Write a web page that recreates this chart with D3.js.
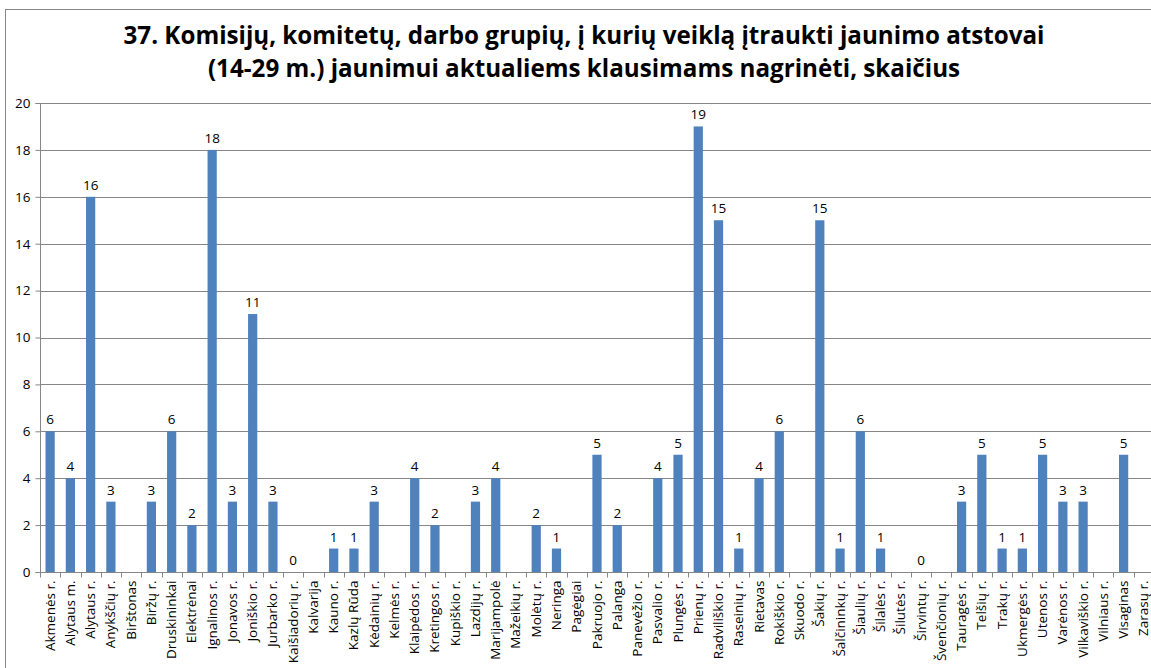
<!DOCTYPE html>
<html>
<head>
<meta charset="utf-8">
<script src="https://cdn.jsdelivr.net/npm/d3@7"></script>
<style>
  body { margin: 0; background: #fff; }
  svg { display: block; }
</style>
</head>
<body>
<div id="chart"></div>
<script>
// savivaldybės
const municipalities = [
  "Akmenės r.", "Alytaus m.", "Alytaus r.", "Anykščių r.", "Birštonas", "Biržų r.",
  "Druskininkai", "Elektrėnai", "Ignalinos r.", "Jonavos r.", "Joniškio r.", "Jurbarko r.",
  "Kaišiadorių r.", "Kalvarija", "Kauno r.", "Kazlų Rūda", "Kėdainių r.", "Kelmės r.",
  "Klaipėdos r.", "Kretingos r.", "Kupiškio r.", "Lazdijų r.", "Marijampolė", "Mažeikių r.",
  "Molėtų r.", "Neringa", "Pagėgiai", "Pakruojo r.", "Palanga", "Panevėžio r.",
  "Pasvalio r.", "Plungės r.", "Prienų r.", "Radviliškio r.", "Raseinių r.", "Rietavas",
  "Rokiškio r.", "Skuodo r.", "Šakių r.", "Šalčininkų r.", "Šiaulių r.", "Šilalės r.",
  "Šilutės r.", "Širvintų r.", "Švenčionių r.", "Tauragės r.", "Telšių r.", "Trakų r.",
  "Ukmergės r.", "Utenos r.", "Varėnos r.", "Vilkaviškio r.", "Vilniaus r.", "Visaginas",
  "Zarasų r."
];

// null = no answer (no label shown)
const counts = [
  6, 4, 16, 3, null, 3,
  6, 2, 18, 3, 11, 3,
  0, null, 1, 1, 3, null,
  4, 2, null, 3, 4, null,
  2, 1, null, 5, 2, null,
  4, 5, 19, 15, 1, 4,
  6, null, 15, 1, 6, 1,
  null, 0, null, 3, 5, 1,
  1, 5, 3, 3, null, 5,
  null
];

const yTicks = [0, 2, 4, 6, 8, 10, 12, 14, 16, 18, 20];

const titleLines = [
  "37. Komisijų, komitetų, darbo grupių, į kurių veiklą įtraukti jaunimo atstovai",
  "(14-29 m.) jaunimui aktualiems klausimams nagrinėti, skaičius"
];

const W = 1151, H = 668;
const plot = { left: 40, top: 103, right: 1154, bottom: 572 };
const font = "'Open Sans', 'Noto Sans', sans-serif";

const svg = d3.select("#chart")
  .append("svg")
  .attr("width", W)
  .attr("height", H)
  .style("font-family", font);

// outer chart border
svg.append("rect")
  .attr("x", 5.5).attr("y", 9.5)
  .attr("width", W + 20).attr("height", H + 20)
  .attr("fill", "none")
  .attr("stroke", "#878787")
  .attr("stroke-width", 1);

// title
svg.append("g")
  .selectAll("text")
  .data(titleLines)
  .enter().append("text")
  .attr("x", 584)
  .attr("y", (d, i) => 44 + i * 33)
  .attr("text-anchor", "middle")
  .style("font-size", "24.2px")
  .style("font-weight", "bold")
  .attr("fill", "#000")
  .text(d => d);

const data = municipalities.map((m, i) => ({ name: m, value: counts[i] }));

const x = d3.scaleBand()
  .domain(municipalities)
  .range([plot.left, plot.right])
  .paddingInner(0.545)
  .paddingOuter(0.2725);

const xOuter = d3.scaleBand()
  .domain(municipalities)
  .range([plot.left, plot.right]);

const y = d3.scaleLinear()
  .domain([0, 20])
  .range([plot.bottom, plot.top]);

// gridlines
svg.append("g")
  .selectAll("line")
  .data(yTicks.filter(t => t > 0))
  .enter().append("line")
  .attr("x1", plot.left)
  .attr("x2", W)
  .attr("y1", d => Math.round(y(d)) + 0.5)
  .attr("y2", d => Math.round(y(d)) + 0.5)
  .attr("stroke", "#868686")
  .attr("stroke-width", 1);

// bars
svg.append("g")
  .selectAll("rect")
  .data(data.filter(d => d.value !== null))
  .enter().append("rect")
  .attr("x", d => x(d.name))
  .attr("width", x.bandwidth())
  .attr("y", d => y(d.value))
  .attr("height", d => y(0) - y(d.value))
  .attr("fill", "#4F81BD");

// data labels
svg.append("g")
  .selectAll("text")
  .data(data.filter(d => d.value !== null))
  .enter().append("text")
  .attr("x", d => xOuter(d.name) + xOuter.bandwidth() / 2)
  .attr("y", d => y(d.value) - 7)
  .attr("text-anchor", "middle")
  .style("font-size", "13.5px")
  .attr("fill", "#000")
  .text(d => d.value);

// y axis
const yAxis = svg.append("g")
  .attr("transform", `translate(${plot.left + 0.5},0)`)
  .call(d3.axisLeft(y).tickValues(yTicks).tickSize(5).tickPadding(5).tickFormat(d3.format("d")));
yAxis.select(".domain").attr("stroke", "#868686").attr("d", `M-5,${plot.top + 0.5}H0V${plot.bottom + 0.5}H-5`);
yAxis.selectAll(".tick line").attr("stroke", "#868686");
yAxis.selectAll(".tick text")
  .style("font-size", "13.5px")
  .style("font-family", font)
  .attr("fill", "#000");

// x axis: ticks between categories
const xAxisG = svg.append("g")
  .attr("transform", `translate(0,${Math.round(plot.bottom) + 0.5})`);
xAxisG.append("line")
  .attr("x1", plot.left).attr("x2", W)
  .attr("y1", 0).attr("y2", 0)
  .attr("stroke", "#868686");
xAxisG.selectAll(".xtick")
  .data(municipalities)
  .enter().append("line")
  .attr("class", "xtick")
  .attr("x1", d => Math.round(xOuter(d)) + 0.5)
  .attr("x2", d => Math.round(xOuter(d)) + 0.5)
  .attr("y1", 0).attr("y2", 5)
  .attr("stroke", "#868686");

xAxisG.selectAll(".xlabel")
  .data(municipalities)
  .enter().append("text")
  .attr("class", "xlabel")
  .attr("transform", d => `translate(${xOuter(d) + xOuter.bandwidth() / 2 + 4.5},8) rotate(-90)`)
  .attr("text-anchor", "end")
  .style("font-size", "13.5px")
  .attr("fill", "#000")
  .text(d => d);
</script>
</body>
</html>
